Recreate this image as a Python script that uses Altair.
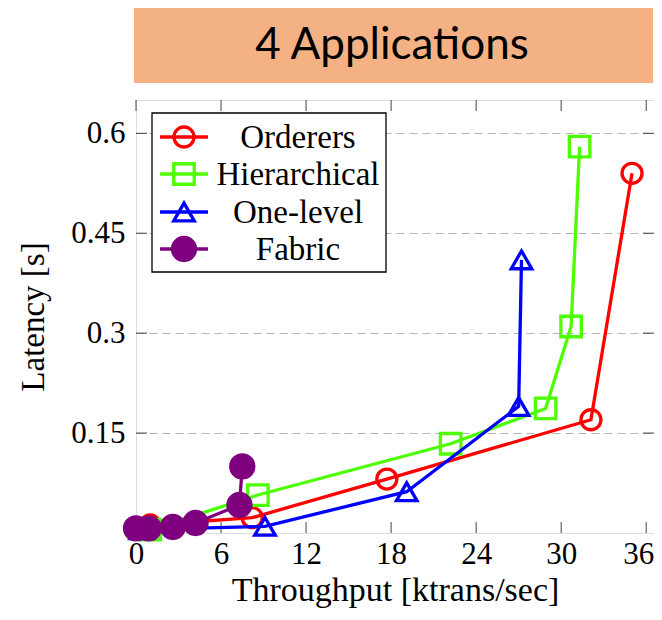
import altair as alt
import pandas as pd

# ---- data ----
series_names = ["Orderers", "Hierarchical", "One-level", "Fabric"]
series_colors = ["#FF0000", "#4DFF00", "#0000FF", "#7F007F"]
series_shapes = ["circle", "square", "triangle-up", "circle"]
series_filled = [False, False, False, True]

orderers_x = [1.0, 8.2, 17.7, 32.1, 35.0]
orderers_y = [0.012, 0.023, 0.081, 0.170, 0.540]
hier_x = [1.0, 8.6, 22.2, 28.9, 30.7, 31.3]
hier_y = [0.005, 0.057, 0.134, 0.187, 0.310, 0.580]
one_x = [0.3, 9.1, 19.1, 27.0, 27.2]
one_y = [0.005, 0.010, 0.062, 0.190, 0.410]
fabric_x = [0.0, 0.9, 2.6, 4.2, 7.3, 7.5]
fabric_y = [0.007, 0.007, 0.009, 0.015, 0.042, 0.100]

x_ticks = [0, 6, 12, 18, 24, 30, 36]
y_ticks = [0.15, 0.30, 0.45, 0.60]
title_text = "4 Applications"
x_title = "Throughput [ktrans/sec]"
y_title = "Latency [s]"

xs_list = [orderers_x, hier_x, one_x, fabric_x]
ys_list = [orderers_y, hier_y, one_y, fabric_y]

W, H = 518, 433
SERIF = "Liberation Serif"

x_scale = alt.Scale(domain=[0, 36.55], nice=False, zero=False)
y_scale = alt.Scale(domain=[0, 0.65], nice=False, zero=False)

x_axis = alt.Axis(values=x_ticks, format="d", grid=False, ticks=False, tickSize=0,
                  domain=False, labelFont=SERIF, labelFontSize=31, labelColor="black",
                  labelPadding=6, labelOverlap=False, labelFlush=False,
                  labelOffset={"condition": {"test": "datum.value == 36", "value": -8},
                               "value": 0},
                  title=x_title, titleFont=SERIF, titleFontSize=34,
                  titleFontWeight="normal", titleColor="black", titlePadding=4)
y_axis = alt.Axis(values=y_ticks, format=".2~f", grid=True, gridDash=[8, 5],
                  gridColor="#b5b5b5", gridWidth=1.2, ticks=False, tickSize=0,
                  domain=False, labelFont=SERIF, labelFontSize=31, labelColor="black",
                  labelPadding=11, labelFlush=False, title=y_title, titleFont=SERIF,
                  titleFontSize=33, titleFontWeight="normal", titleColor="black",
                  titlePadding=20)


def xe(field="x"):
    return alt.X(f"{field}:Q", scale=x_scale, axis=x_axis)


def ye(field="y"):
    return alt.Y(f"{field}:Q", scale=y_scale, axis=y_axis)


layers = []

# inside tick marks (on all four sides)
xt = pd.DataFrame({"x": x_ticks})
yt = pd.DataFrame({"y": y_ticks})
TL = 11
layers.append(alt.Chart(xt).mark_rule(color="#444444", strokeWidth=1).encode(
    x=xe(), y=alt.value(H), y2=alt.value(H - TL)))
layers.append(alt.Chart(xt).mark_rule(color="#444444", strokeWidth=1).encode(
    x=xe(), y=alt.value(0), y2=alt.value(TL)))
layers.append(alt.Chart(yt).mark_rule(color="#444444", strokeWidth=1).encode(
    y=ye(), x=alt.value(0), x2=alt.value(TL)))
layers.append(alt.Chart(yt).mark_rule(color="#444444", strokeWidth=1).encode(
    y=ye(), x=alt.value(W - TL), x2=alt.value(W)))

# series
for name, xv, yv, col, shp, fil in zip(series_names, xs_list, ys_list,
                                         series_colors, series_shapes, series_filled):
    df = pd.DataFrame({"x": xv, "y": yv, "o": list(range(len(xv)))})
    layers.append(alt.Chart(df).mark_line(color=col, strokeWidth=3.3).encode(
        x=xe(), y=ye(), order="o:Q"))
    size = 530 if fil else (420 if shp != "circle" else 400)
    layers.append(alt.Chart(df).mark_point(
        shape=shp, filled=fil, color=col, fill=col if fil else "transparent",
        stroke=col, strokeWidth=3.3, size=size, opacity=1).encode(x=xe(), y=ye()))

# legend box (decoration)
one = pd.DataFrame({"a": [0]})
layers.append(alt.Chart(one).mark_rect(fill="white", stroke="black", strokeWidth=1.3).encode(
    x=alt.value(16), x2=alt.value(250), y=alt.value(13), y2=alt.value(172)))
row_y = [37, 74, 112, 149]
for name, col, shp, fil, ry in zip(series_names, series_colors, series_shapes,
                                   series_filled, row_y):
    layers.append(alt.Chart(one).mark_rule(color=col, strokeWidth=3.3).encode(
        x=alt.value(24), x2=alt.value(72), y=alt.value(ry)))
    size = 530 if fil else (420 if shp != "circle" else 400)
    layers.append(alt.Chart(one).mark_point(
        shape=shp, filled=fil, color=col, fill=col if fil else "transparent",
        stroke=col, strokeWidth=3.3, size=size, opacity=1).encode(
        x=alt.value(48), y=alt.value(ry)))
    layers.append(alt.Chart(pd.DataFrame({"t": [name]})).mark_text(
        font=SERIF, fontSize=33, color="black", align="center", baseline="middle").encode(
        x=alt.value(162), y=alt.value(ry + 1), text="t:N"))

# title banner
layers.append(alt.Chart(one).mark_rect(fill="#F4B183").encode(
    x=alt.value(-2), x2=alt.value(517), y=alt.value(-92), y2=alt.value(-17)))
layers.append(alt.Chart(pd.DataFrame({"t": [title_text]})).mark_text(
    font="Lato", fontSize=44, color="black", align="center", baseline="middle").encode(
    x=alt.value(256), y=alt.value(-54), text="t:N"))

chart = alt.layer(*layers).properties(
    width=W, height=H,
    autosize=alt.AutoSizeParams(type="none"),
    padding={"left": 128, "top": 92, "right": 0, "bottom": 78},
).configure_view(stroke="black", strokeWidth=1.3).configure(background="white")

chart.save("out.html", embed_options={"renderer": "svg", "actions": False})
